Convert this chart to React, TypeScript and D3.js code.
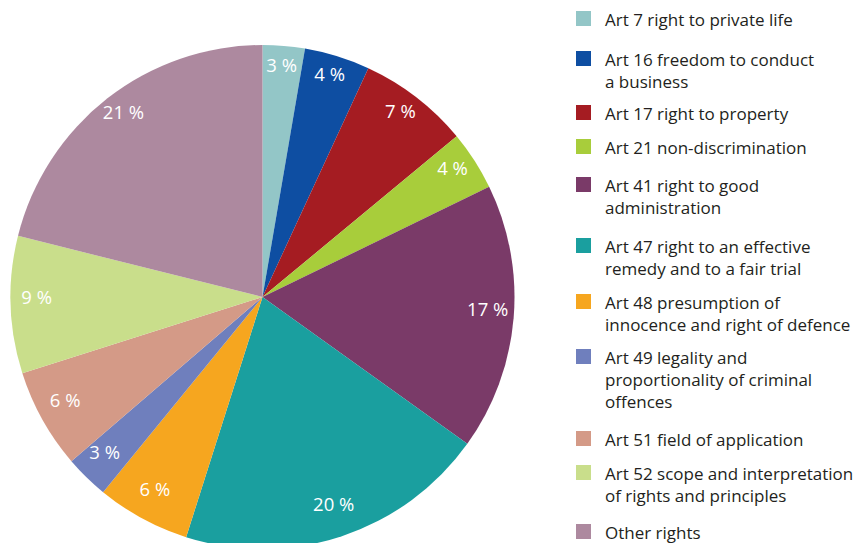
import { useRef, useEffect } from 'react';
import * as d3 from 'd3';

const CATEGORIES = [
  ['Art 7 right to private life'],
  ['Art 16 freedom to conduct', 'a business'],
  ['Art 17 right to property'],
  ['Art 21 non-discrimination'],
  ['Art 41 right to good', 'administration'],
  ['Art 47 right to an effective', 'remedy and to a fair trial'],
  ['Art 48 presumption of', 'innocence and right of defence'],
  ['Art 49 legality and', 'proportionality of criminal', 'offences'],
  ['Art 51 field of application'],
  ['Art 52 scope and interpretation', 'of rights and principles'],
  ['Other rights'],
];

const SHARES = [2.7, 4.2, 7.1, 3.8, 17.1, 20.0, 6.0, 2.8, 6.4, 8.8, 21.1];

const COLORS = [
  '#93c6c7', '#0e4ea2', '#a51c22', '#a8cd3b', '#7a3a68', '#1a9f9f',
  '#f6a61f', '#6f7fbd', '#d49a87', '#c9de8b', '#ad899f',
];

// legend square tops
const LEGEND_TOPS = [11, 51, 105, 139, 177, 238, 294, 349, 431, 465, 524];

const FONT = '"Open Sans", sans-serif';

export default function App() {
  const svgRef = useRef<SVGSVGElement>(null);

  useEffect(() => {
    if (!svgRef.current) return;
    const width = 856;
    const h = 543;
    const cx = 262.5;
    const cy = 297;
    const radius = 252;

    const svg = d3.select(svgRef.current);
    svg.selectAll('*').remove();
    svg.attr('width', width).attr('height', h).attr('viewBox', `0 0 ${width} ${h}`);

    const pie = d3.pie<number>().sort(null).value(d => d);
    const arcs = pie(SHARES);
    const arc = d3.arc<d3.PieArcDatum<number>>().innerRadius(0).outerRadius(radius);
    const labelArc = d3.arc<d3.PieArcDatum<number>>().innerRadius(226).outerRadius(226);

    const g = svg.append('g').attr('transform', `translate(${cx},${cy})`);

    g.selectAll('path')
      .data(arcs)
      .join('path')
      .attr('d', arc)
      .attr('fill', (_, i) => COLORS[i]);

    // labels sit on their baseline at the centroid
    g.selectAll('text')
      .data(arcs)
      .join('text')
      .attr('transform', d => `translate(${labelArc.centroid(d)})`)
      .attr('text-anchor', 'middle')
      .attr('fill', '#fff')
      .attr('font-family', FONT)
      .attr('font-size', '18.5px')
      .text(d => `${Math.round(d.data)} %`);

    // Legend
    const legend = svg.append('g');
    CATEGORIES.forEach((lines, i) => {
      const top = LEGEND_TOPS[i];
      legend.append('rect')
        .attr('x', 576).attr('y', top)
        .attr('width', 15).attr('height', 15)
        .attr('fill', COLORS[i]);
      const t = legend.append('text')
        .attr('x', 605)
        .attr('y', top + 15)
        .attr('fill', '#231f20')
        .attr('font-family', FONT)
        .attr('font-weight', 500)
        .attr('font-size', '17px');
      lines.forEach((line, j) => {
        t.append('tspan').attr('x', 605).attr('dy', j === 0 ? 0 : 22).text(line);
      });
    });
  }, []);

  return <svg ref={svgRef} style={{ position: 'absolute', left: 0, top: 0 }} />;
}
